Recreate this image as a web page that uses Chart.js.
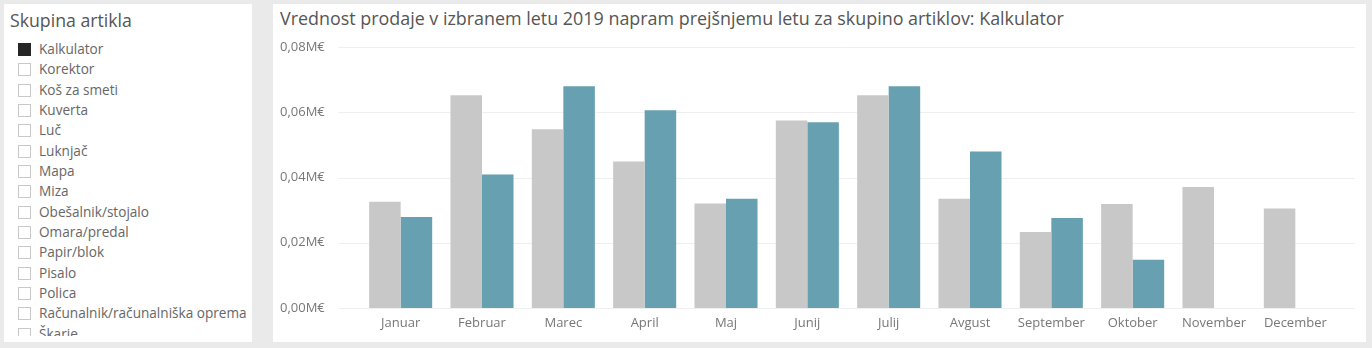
<!DOCTYPE html>
<html>
<head>
<meta charset="utf-8">
<script src="https://cdn.jsdelivr.net/npm/chart.js@4"></script>
<style>
  body { margin: 0; background: #eaeaea; font-family: "Open Sans", sans-serif; width: 1372px; height: 348px; overflow: hidden; position: relative; }
  .panel { position: absolute; background: #fff; }
  #slicer { left: 4px; top: 4px; width: 248px; height: 338px; overflow: hidden; }
  #slicer h2 { margin: 0; position: absolute; left: 6px; top: 4px; font-size: 17.7px; font-weight: normal; color: #555; white-space: nowrap; }
  #slicer ul { list-style: none; margin: 0; padding: 0; position: absolute; left: 14px; top: 35px; height: 297px; overflow: hidden; width: 234px; }
  #slicer li { height: 20.35px; line-height: 20.35px; font-size: 13.6px; color: #666; white-space: nowrap; }
  #slicer li span.box { display: inline-block; width: 11px; height: 11px; border: 1.6px solid #c8c8c8; vertical-align: -2px; margin-right: 8px; }
  #slicer li.on span.box { background: #252525; border-color: #252525; }
  #chartPanel { left: 273px; top: 4px; width: 1093px; height: 338px; }
  #chartPanel h1 { margin: 0; position: absolute; left: 7px; top: 2px; font-size: 17.9px; font-weight: normal; color: #555; white-space: nowrap; }
  #chartPanel canvas { position: absolute; left: 0; top: 0; }
</style>
</head>
<body>
<div class="panel" id="slicer">
  <h2>Skupina artikla</h2>
  <ul id="items"></ul>
</div>
<div class="panel" id="chartPanel">
  <h1>Vrednost prodaje v izbranem letu 2019 napram prejšnjemu letu za skupino artiklov: Kalkulator</h1>
  <canvas id="salesChart" width="1093" height="338"></canvas>
</div>
<script>
// slicer entries
const groups = ['Kalkulator', 'Korektor', 'Koš za smeti', 'Kuverta', 'Luč', 'Luknjač', 'Mapa', 'Miza',
  'Obešalnik/stojalo', 'Omara/predal', 'Papir/blok', 'Pisalo', 'Polica', 'Računalnik/računalniška oprema', 'Škarje'];
const selectedGroup = 'Kalkulator';

// chart data (M€)
const months = ['Januar', 'Februar', 'Marec', 'April', 'Maj', 'Junij', 'Julij', 'Avgust', 'September', 'Oktober', 'November', 'December'];
const prevYear = [0.0326, 0.0652, 0.0548, 0.0449, 0.0320, 0.0575, 0.0652, 0.0335, 0.0233, 0.0319, 0.0371, 0.0305];
const year2019 = [0.0279, 0.0409, 0.0680, 0.0606, 0.0335, 0.0569, 0.0680, 0.0480, 0.0276, 0.0148, null, null];
const yTicks = [0, 0.02, 0.04, 0.06, 0.08];

const list = document.getElementById('items');
groups.forEach(g => {
    const li = document.createElement('li');
    if (g === selectedGroup) li.className = 'on';
    li.innerHTML = '<span class="box"></span>' + g;
    list.appendChild(li);
});

// gridlines run a bit wider than the bar area
const wideGrid = {
    id: 'wideGrid',
    beforeDatasetsDraw(chart) {
        const ctx = chart.ctx;
        const y = chart.scales.y;
        ctx.save();
        ctx.strokeStyle = '#efefef';
        ctx.lineWidth = 1;
        yTicks.forEach(v => {
            const py = Math.round(y.getPixelForValue(v)) + 0.5;
            ctx.beginPath();
            ctx.moveTo(65, py);
            ctx.lineTo(1082, py);
            ctx.stroke();
        });
        ctx.restore();
    }
};

new Chart(document.getElementById('salesChart'), {
    type: 'bar',
    data: {
        labels: months,
        datasets: [
            { label: 'Prejšnje leto', data: prevYear, backgroundColor: '#c8c8c8' },
            { label: '2019', data: year2019, backgroundColor: '#66a0b1' }
        ]
    },
    options: {
        responsive: false,
        animation: false,
        categoryPercentage: 0.775,
        barPercentage: 1.0,
        layout: { padding: { left: 7, right: 30, top: 43, bottom: 10 } },
        plugins: { legend: { display: false }, tooltip: { enabled: false } },
        scales: {
            x: {
                grid: { display: false, drawTicks: false },
                border: { display: false },
                ticks: { color: '#777', font: { family: 'Open Sans', size: 13 }, padding: 7, maxRotation: 0, autoSkip: false },
                afterFit(scale) { scale.height = 24; }
            },
            y: {
                min: 0,
                max: 0.08,
                grid: { display: false, drawTicks: false },
                border: { display: false },
                afterBuildTicks(scale) { scale.ticks = yTicks.map(v => ({ value: v })); },
                afterFit(scale) { scale.width = 80; },
                ticks: {
                    color: '#777',
                    crossAlign: 'far',
                    font: { family: 'Open Sans', size: 13 },
                    callback: v => v.toFixed(2).replace('.', ',') + 'M€'
                }
            }
        }
    },
    plugins: [wideGrid]
});
</script>
</body>
</html>
